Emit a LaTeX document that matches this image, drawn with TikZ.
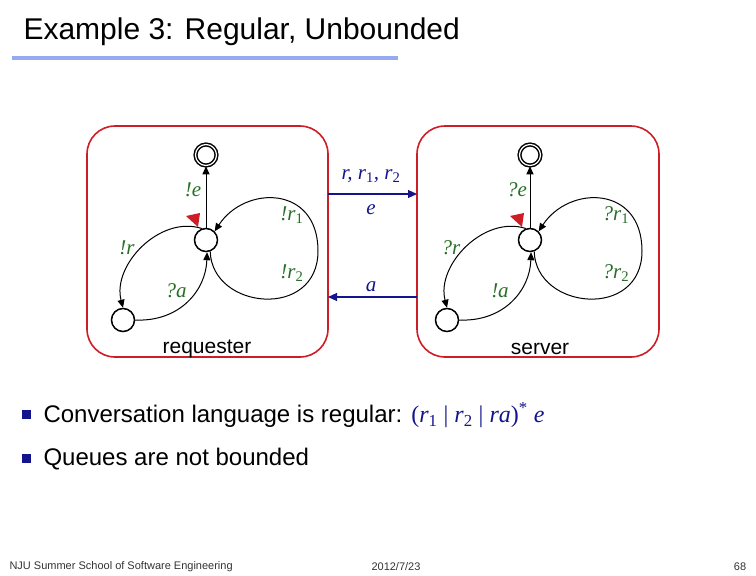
\documentclass[tikz,border=0pt]{standalone}
\usepackage{fontspec}
\setmainfont{Liberation Sans}
\newfontfamily\lserif{Liberation Serif}
\usetikzlibrary{arrows.meta}
\definecolor{boxred}{RGB}{205,30,40}
\definecolor{lblgreen}{RGB}{40,110,40}
\definecolor{navy}{RGB}{20,20,140}
\definecolor{ulblue}{RGB}{150,170,240}
\newcommand{\mysub}[1]{\textsubscript{\upshape #1}}
\begin{document}
\begin{tikzpicture}[x=1pt,y=-1pt,
  st/.style={circle,draw,line width=1.5pt,minimum size=23pt,inner sep=0pt},
  fin/.style={st,double,double distance=1.2pt,minimum size=21pt},
  tr/.style={line width=1pt,-{Triangle[length=8pt,width=7pt]}},
  lbl/.style={text=lblgreen,font=\lserif\itshape\fontsize{21}{21}\selectfont},
  msg/.style={line width=1.1pt,navy,-{Triangle[length=9pt,width=8pt]}},
  msgl/.style={text=navy,font=\lserif\itshape\fontsize{21}{21}\selectfont},
  comp/.style={draw=boxred,line width=1.6pt,rounded corners=28pt},
  bul/.style={fill=navy,minimum size=9pt,inner sep=0pt}]
\useasboundingbox (0,0) rectangle (756,576);
\node[anchor=west,font=\fontsize{30}{30}\selectfont] (title) at (20,32) {Example 3: Regular, Unbounded};
\draw[ulblue,line width=4pt] (12,58) -- (398,58);
% components
\draw[comp] (87,126) rectangle (328,357);
\draw[comp] (417,126) rectangle (659,357);
\foreach \dx/\nm/\ea/\ra/\ao/\rone/\rtwo/\cap/\cx in {0/L/{!e}/{!r}/{?a}/{!r\mysub{1}}/{!r\mysub{2}}/requester/207, 324/R/{?e}/{?r}/{!a}/{?r\mysub{1}}/{?r\mysub{2}}/server/540}{
  \begin{scope}[xshift=\dx]
  \node[st] (c\nm) at (206,240) {};
  \node[fin] (t\nm) at (206,155) {};
  \node[st] (b\nm) at (123,320) {};
  \draw[tr] (c\nm) -- (t\nm);
  \draw[tr] (c\nm.110) .. controls (160,215) and (112,265) .. (b\nm.north);
  \draw[tr] (b\nm.east) .. controls (180,322) and (206,290) .. (c\nm.-85);
  \draw[tr] (c\nm.-70) .. controls (212,310) and (318,320) .. (318,251) .. controls (318,185) and (245,185) .. (c\nm.45);
  \fill[boxred] (186,216) -- (200,213) -- (198,227) -- cycle;
  \node[lbl] (le\nm) at (193,190) {\ea};
  \node[lbl] (lr\nm) at (127,248) {\ra};
  \node[lbl] (la\nm) at (176,291) {\ao};
  \node[lbl] (l1\nm) at (292,215) {\rone};
  \node[lbl] (l2\nm) at (292,273) {\rtwo};
  \end{scope}
  \node[font=\fontsize{21}{21}\selectfont] (cap\nm) at (\cx,349) {\cap};
}
% messages
\coordinate (m1s) at (328,194); \coordinate (m1e) at (417,194);
\coordinate (m2s) at (417,297); \coordinate (m2e) at (328,297);
\draw[msg] (m1s) -- (m1e);
\draw[msg] (m2s) -- (m2e);
\node[msgl] (ml1) at (371,176) {r, r\mysub{1}, r\mysub{2}};
\node[msgl] (ml2) at (371,210) {e};
\node[msgl] (ml3) at (371,287) {a};
% bullets
\node[bul] (b1) at (26,414) {};
\node[bul] (b2) at (26,458) {};
\node[anchor=west,font=\fontsize{24}{24}\selectfont] (t1) at (40,415) {Conversation language is regular: {\lserif\color{navy}\fontsize{24}{24}\selectfont (\textit{r}\mysub{1} | \textit{r}\mysub{2} | \textit{ra})\textsuperscript{*} \textit{e}}};
\node[anchor=west,font=\fontsize{24}{24}\selectfont] (t2) at (40,459) {Queues are not bounded};
% footer
\node[anchor=west,font=\fontsize{11}{11}\selectfont,text=black!80] (f1) at (6,567) {NJU Summer School of Software Engineering};
\node[font=\fontsize{11}{11}\selectfont,text=black!80] (f2) at (396,567) {2012/7/23};
\node[font=\fontsize{11}{11}\selectfont,text=black!80] (f3) at (740,567) {68};
\end{tikzpicture}
\end{document}
